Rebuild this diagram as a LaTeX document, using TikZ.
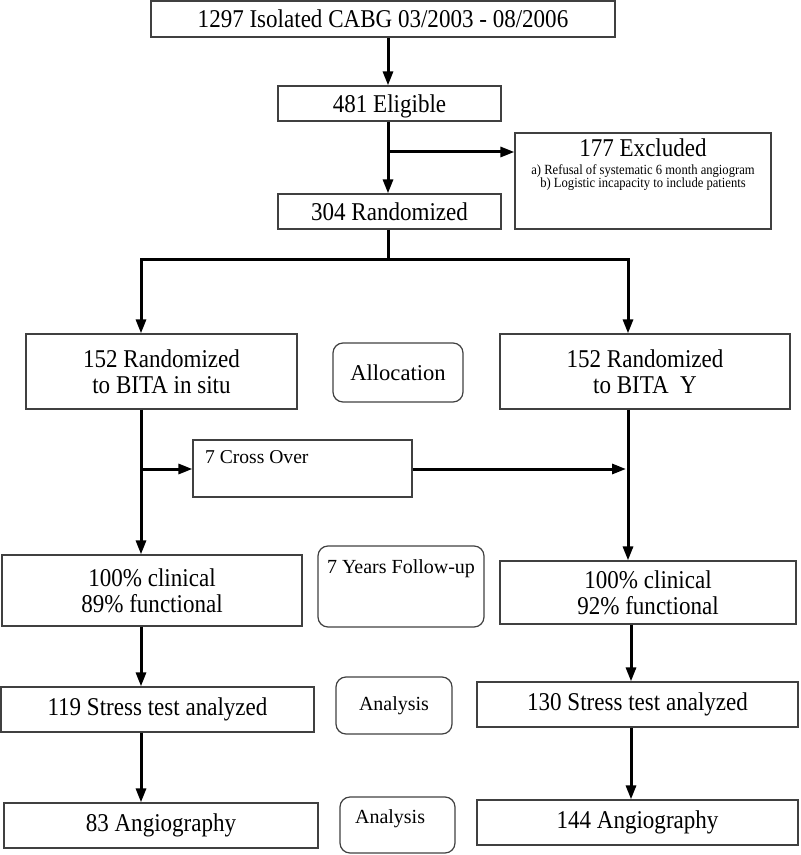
\documentclass[tikz,border=0pt]{standalone}
\usepackage{fontspec}
\setmainfont{Liberation Serif}
\newfontfamily\condfont[FakeStretch=0.9]{Liberation Serif}
\usetikzlibrary{
    arrows.meta,
    calc,
    positioning
}
\tikzset{
    box/.style={draw=black!75, line width=0.6pt, inner sep=0pt, align=center,
        font=\condfont\fontsize{12.8}{13}\selectfont},
    rbox/.style={box, rounded corners=5pt, font=\fontsize{11.3}{13}\selectfont},
    flow/.style={line width=1.5pt, -{Triangle[length=7pt,width=5pt]}},
    wire/.style={line width=1.5pt}
}

\begin{document}
\begin{tikzpicture}[x=0.5pt, y=-0.5pt]
    \useasboundingbox (0,0) rectangle (800,855);

    \coordinate (cx) at (388,0);
    \coordinate (lx) at (141,0);
    \coordinate (rx) at (628,0);
    \coordinate (rx2) at (631,0);

    \node[box, minimum width=232pt, minimum height=18pt] (total) at (383,19) {1297 Isolated CABG 03/2003 - 08/2006};
    \node[box, minimum width=111.5pt, minimum height=17.5pt, text depth=0pt] (elig) at (389.5,103.5) {481 Eligible};
    \node[box, minimum width=128pt, minimum height=48pt] (excl) at (643,181) {};
    \node[anchor=base, font=\condfont\fontsize{12.8}{13}\selectfont] (exclhead) at (643,157) {177 Excluded};
    \node[anchor=base, font=\condfont\fontsize{7}{8}\selectfont] (excla) at (643,175) {a) Refusal of systematic 6 month angiogram};
    \node[anchor=base, font=\condfont\fontsize{7}{8}\selectfont] (exclb) at (643,188) {b) Logistic incapacity to include patients};
    \node[box, minimum width=111.5pt, minimum height=17.5pt, text depth=0pt] (rand) at (389.5,211.5) {304 Randomized};

    \node[box, minimum width=135.5pt, minimum height=37.5pt] (lrand) at (161.5,371.5) {152 Randomized\\to BITA in situ};
    \node[rbox, minimum width=65pt, minimum height=29.5pt] (alloc) at (398,372.5) {Allocation};
    \node[box, minimum width=145pt, minimum height=37.5pt] (rrand) at (645,371.5) {152 Randomized\\to BITA~~Y};

    \node[box, minimum width=109.5pt, minimum height=28.5pt] (cross) at (302.5,468.5) {};
    \node[anchor=base west, font=\fontsize{9.8}{12}\selectfont] (crosstxt) at (198,463) {7 Cross Over};

    \node[box, minimum width=150pt, minimum height=35.5pt] (lclin) at (152,590.5) {100\% clinical\\89\% functional};
    \node[rbox, minimum width=83pt, minimum height=40.5pt] (follow) at (401,586.5) {};
    \node[anchor=base, font=\fontsize{10}{12}\selectfont] (followtxt) at (401,573) {7 Years Follow-up};
    \node[box, minimum width=148pt, minimum height=31.5pt] (rclin) at (648,592.5) {100\% clinical\\92\% functional};

    \node[box, minimum width=156.5pt, minimum height=22.5pt] (lstress) at (157.5,709.5) {119 Stress test analyzed};
    \node[rbox, minimum width=58pt, minimum height=28.5pt, font=\fontsize{10}{12}\selectfont] (an1) at (394,705.5) {Analysis};
    \node[box, minimum width=160.5pt, minimum height=22.5pt] (rstress) at (637.5,704.5) {130 Stress test analyzed};

    \node[box, minimum width=157pt, minimum height=22.5pt] (langio) at (161,825.5) {83 Angiography};
    \node[rbox, minimum width=57.5pt, minimum height=28pt] (an2) at (397.5,825) {};
    \node[anchor=base west, font=\fontsize{10}{12}\selectfont] (an2txt) at (348,823) {Analysis};
    \node[box, minimum width=160.5pt, minimum height=22.5pt] (rangio) at (637.5,822.5) {144 Angiography};

    % forks
    \coordinate (exclfork) at (388,152);
    \coordinate (split) at (388,260);
    \coordinate (crossfork) at (141,469);
    \coordinate (crossend) at (626,469);

    \draw[flow] (total.south -| cx) -- (elig.north -| cx);
    \draw[flow] (elig.south -| cx) -- (rand.north -| cx);
    \draw[flow] (exclfork) -- (exclfork -| excl.west);
    \draw[wire] (rand.south -| cx) -- (split);
    \draw[flow] (split) -| (lrand.north -| lx);
    \draw[flow] (split) -| (rrand.north -| rx);

    \draw[flow] (lrand.south -| lx) -- (lclin.north -| lx);
    \draw[flow] (crossfork) -- (crossfork -| cross.west);
    \draw[flow] (crossfork -| cross.east) -- (crossend);
    \draw[flow] (rrand.south -| rx) -- (rclin.north -| rx);

    \draw[flow] (lclin.south -| lx) -- (lstress.north -| lx);
    \draw[flow] (lstress.south -| lx) -- (langio.north -| lx);
    \draw[flow] (rclin.south -| rx2) -- (rstress.north -| rx2);
    \draw[flow] (rstress.south -| rx2) -- (rangio.north -| rx2);
\end{tikzpicture}
\end{document}
